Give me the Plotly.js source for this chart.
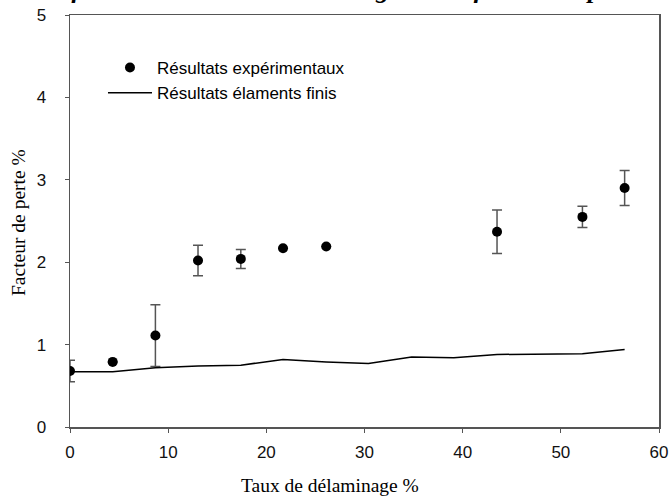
<!DOCTYPE html>
<html>
<head>
<meta charset="utf-8">
<script src="https://cdn.plot.ly/plotly-3.0.1.min.js"></script>
<style>html,body{margin:0;padding:0;background:#fff;}#chart{width:671px;height:504px;}</style>
</head>
<body>
<div id="chart"></div>
<script>
// Experimental results
const expX = [0, 4.35, 8.7, 13.04, 17.4, 21.7, 26.1, 43.5, 52.2, 56.5];
const expY = [0.68, 0.79, 1.11, 2.02, 2.04, 2.17, 2.19, 2.37, 2.55, 2.90];
const expErr = [0.13, 0, 0.375, 0.185, 0.115, 0, 0, 0.265, 0.128, 0.212];
// Finite element results
const feX = [0, 4.35, 8.7, 13.04, 17.4, 21.7, 26.1, 30.4, 34.8, 39.1, 43.5, 47.8, 52.2, 56.5];
const feY = [0.67, 0.67, 0.72, 0.74, 0.75, 0.82, 0.79, 0.77, 0.85, 0.84, 0.88, 0.885, 0.89, 0.94];
const xTicks = [0, 10, 20, 30, 40, 50, 60];
const yTicks = [0, 1, 2, 3, 4, 5];
const titleText = "Influence du taux de délaminage sur le facteur de perte";
const xTitle = "Taux de délaminage %";
const yTitle = "Facteur de perte %";

const serif = 'Liberation Serif, Times New Roman, serif';
const sans = 'Liberation Sans, Arial, sans-serif';

const traces = [
  {
    x: expX, y: expY, type: 'scatter', mode: 'markers',
    name: 'Résultats expérimentaux',
    marker: {color: '#000', size: 10},
    error_y: {type: 'data', array: expErr, visible: true, color: '#555', thickness: 1.5, width: 5}
  },
  {
    x: feX, y: feY, type: 'scatter', mode: 'lines',
    name: 'Résultats élaments finis',
    line: {color: '#000', width: 1.5}
  }
];

const axisCommon = {
  showline: true, mirror: true, linecolor: '#555', linewidth: 1.5,
  ticks: 'outside', ticklen: 4, tickwidth: 1, tickcolor: '#555',
  showgrid: false, zeroline: false,
  tickfont: {family: sans, size: 17, color: '#111'}
};

const layout = {
  width: 671, height: 504,
  margin: {l: 70, r: 12, t: 15, b: 77},
  paper_bgcolor: '#fff', plot_bgcolor: '#fff',
  showlegend: true,
  legend: {
    x: 0.056, y: 0.915, xanchor: 'left', yanchor: 'top',
    bgcolor: 'rgba(0,0,0,0)', itemwidth: 44, tracegroupgap: 0,
    font: {family: sans, size: 17, color: '#000'}
  },
  xaxis: Object.assign({}, axisCommon, {
    range: [0, 60], tickvals: xTicks, ticktext: xTicks.map(String),
    ticklabelstandoff: 5
  }),
  yaxis: Object.assign({}, axisCommon, {
    range: [0, 5], tickvals: yTicks, ticktext: yTicks.map(String),
    ticklabelstandoff: 15
  }),
  annotations: [
    {
      text: '<b><i>' + titleText + '</i></b>',
      xref: 'paper', yref: 'paper', x: 0.465, y: 1.021, xanchor: 'center', yanchor: 'bottom',
      showarrow: false,
      font: {family: serif, size: 26, color: '#000'}
    },
    {
      text: xTitle,
      xref: 'paper', yref: 'paper', x: 0.441, y: -0.141, xanchor: 'center', yanchor: 'middle',
      showarrow: false,
      font: {family: serif, size: 19.5, color: '#000'}
    },
    {
      text: yTitle, textangle: -90,
      xref: 'paper', yref: 'paper', x: -0.0866, y: 0.4976, xanchor: 'center', yanchor: 'middle',
      showarrow: false,
      font: {family: serif, size: 19.5, color: '#000'}
    }
  ]
};

Plotly.newPlot('chart', traces, layout, {displayModeBar: false, staticPlot: true});
</script>
</body>
</html>
